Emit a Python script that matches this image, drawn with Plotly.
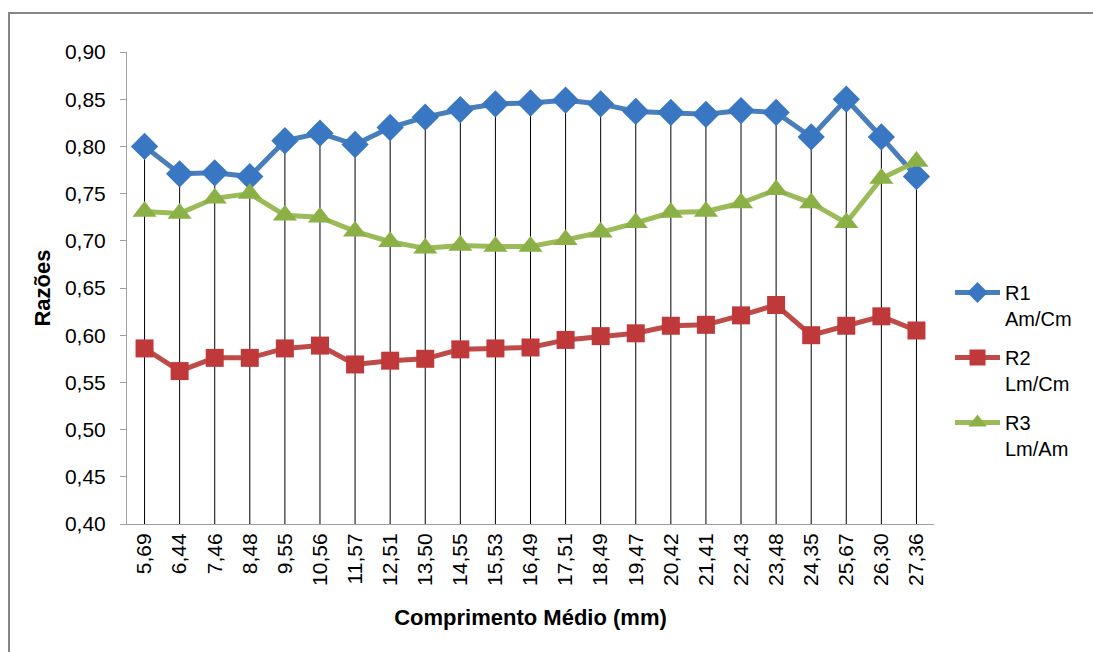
import plotly.graph_objects as go

categories = ["5,69", "6,44", "7,46", "8,48", "9,55", "10,56", "11,57", "12,51", "13,50",
              "14,55", "15,53", "16,49", "17,51", "18,49", "19,47", "20,42", "21,41",
              "22,43", "23,48", "24,35", "25,67", "26,30", "27,36"]
r1 = [0.800, 0.771, 0.772, 0.768, 0.806, 0.814, 0.802, 0.820, 0.831, 0.839, 0.845, 0.846,
      0.849, 0.845, 0.837, 0.836, 0.834, 0.838, 0.836, 0.810, 0.850, 0.810, 0.768]
r2 = [0.586, 0.562, 0.576, 0.576, 0.586, 0.589, 0.569, 0.573, 0.575, 0.585, 0.586, 0.587,
      0.595, 0.599, 0.602, 0.610, 0.611, 0.621, 0.632, 0.600, 0.610, 0.620, 0.605]
r3 = [0.731, 0.729, 0.745, 0.750, 0.727, 0.725, 0.710, 0.699, 0.692, 0.695, 0.694, 0.694,
      0.701, 0.709, 0.719, 0.730, 0.731, 0.740, 0.754, 0.740, 0.719, 0.766, 0.784]
y_min, y_max = 0.40, 0.90

FONT = "Liberation Sans, Arial, sans-serif"

fig = go.Figure()

# Drop lines from the highest point down to the category axis
dx, dy = [], []
for c, a, b, d in zip(categories, r1, r2, r3):
    dx += [c, c, None]
    dy += [max(a, b, d), y_min, None]
fig.add_trace(go.Scatter(x=dx, y=dy, mode="lines", line=dict(color="black", width=1),
                         showlegend=False, hoverinfo="skip"))

fig.add_trace(go.Scatter(x=categories, y=r1, name="R1<br>Am/Cm", mode="lines+markers",
                         legendgroup="g1",
                         line=dict(color="#4A7EBB", width=5),
                         marker=dict(symbol="diamond", size=21, color="#3A77C2")))
fig.add_trace(go.Scatter(x=categories, y=r2, name="R2<br>Lm/Cm", mode="lines+markers",
                         legendgroup="g2",
                         line=dict(color="#BE4B48", width=5),
                         marker=dict(symbol="square", size=18, color="#C0393A")))
fig.add_trace(go.Scatter(x=categories, y=r3, name="R3<br>Lm/Am", mode="lines+markers",
                         legendgroup="g3",
                         line=dict(color="#9BBB59", width=5),
                         marker=dict(symbol="triangle-up", size=21, color="#8AB046")))

L, R, T, B = 127, 159, 52, 128
W, H = 1093, 652
pw, ph = W - L - R, H - T - B

def px(x):
    return (x - L) / pw

def py(y):
    return (H - B - y) / ph

fig.add_shape(type="rect", xref="paper", yref="paper",
              x0=px(9), x1=px(1110), y0=py(670), y1=py(13),
              line=dict(color="#878787", width=2), fillcolor="rgba(0,0,0,0)", layer="below")

fig.update_layout(
    width=W, height=H,
    margin=dict(l=L, r=R, t=T, b=B),
    paper_bgcolor="white", plot_bgcolor="white",
    separators=", ",
    font=dict(family=FONT, color="black", size=20),
    showlegend=True,
    legend=dict(x=px(950), y=py(273), xanchor="left", yanchor="top",
                font=dict(family=FONT, size=20, color="black"),
                tracegroupgap=10, itemwidth=45, valign="top",
                bgcolor="rgba(0,0,0,0)"),
    xaxis=dict(type="category", categoryorder="array", categoryarray=categories,
               tickangle=-90, showgrid=False, showline=True, linecolor="#A0A0A0",
               linewidth=1, ticks="", tickfont=dict(size=21),
               title=dict(text="<b>Comprimento Médio (mm)</b>", font=dict(size=22), standoff=24),
               range=[-0.5, len(categories) - 0.5], zeroline=False),
    yaxis=dict(range=[y_min, y_max], dtick=0.05, tickformat=".2f", showgrid=False,
               showline=True, linecolor="#A0A0A0", linewidth=1, ticks="outside",
               ticklen=6, tickcolor="#A0A0A0", tickfont=dict(size=21), zeroline=False,
               ticklabelstandoff=10,
               title=dict(text="<b>Razões</b>", font=dict(size=22), standoff=8)),
)

fig.write_html("out.html")
